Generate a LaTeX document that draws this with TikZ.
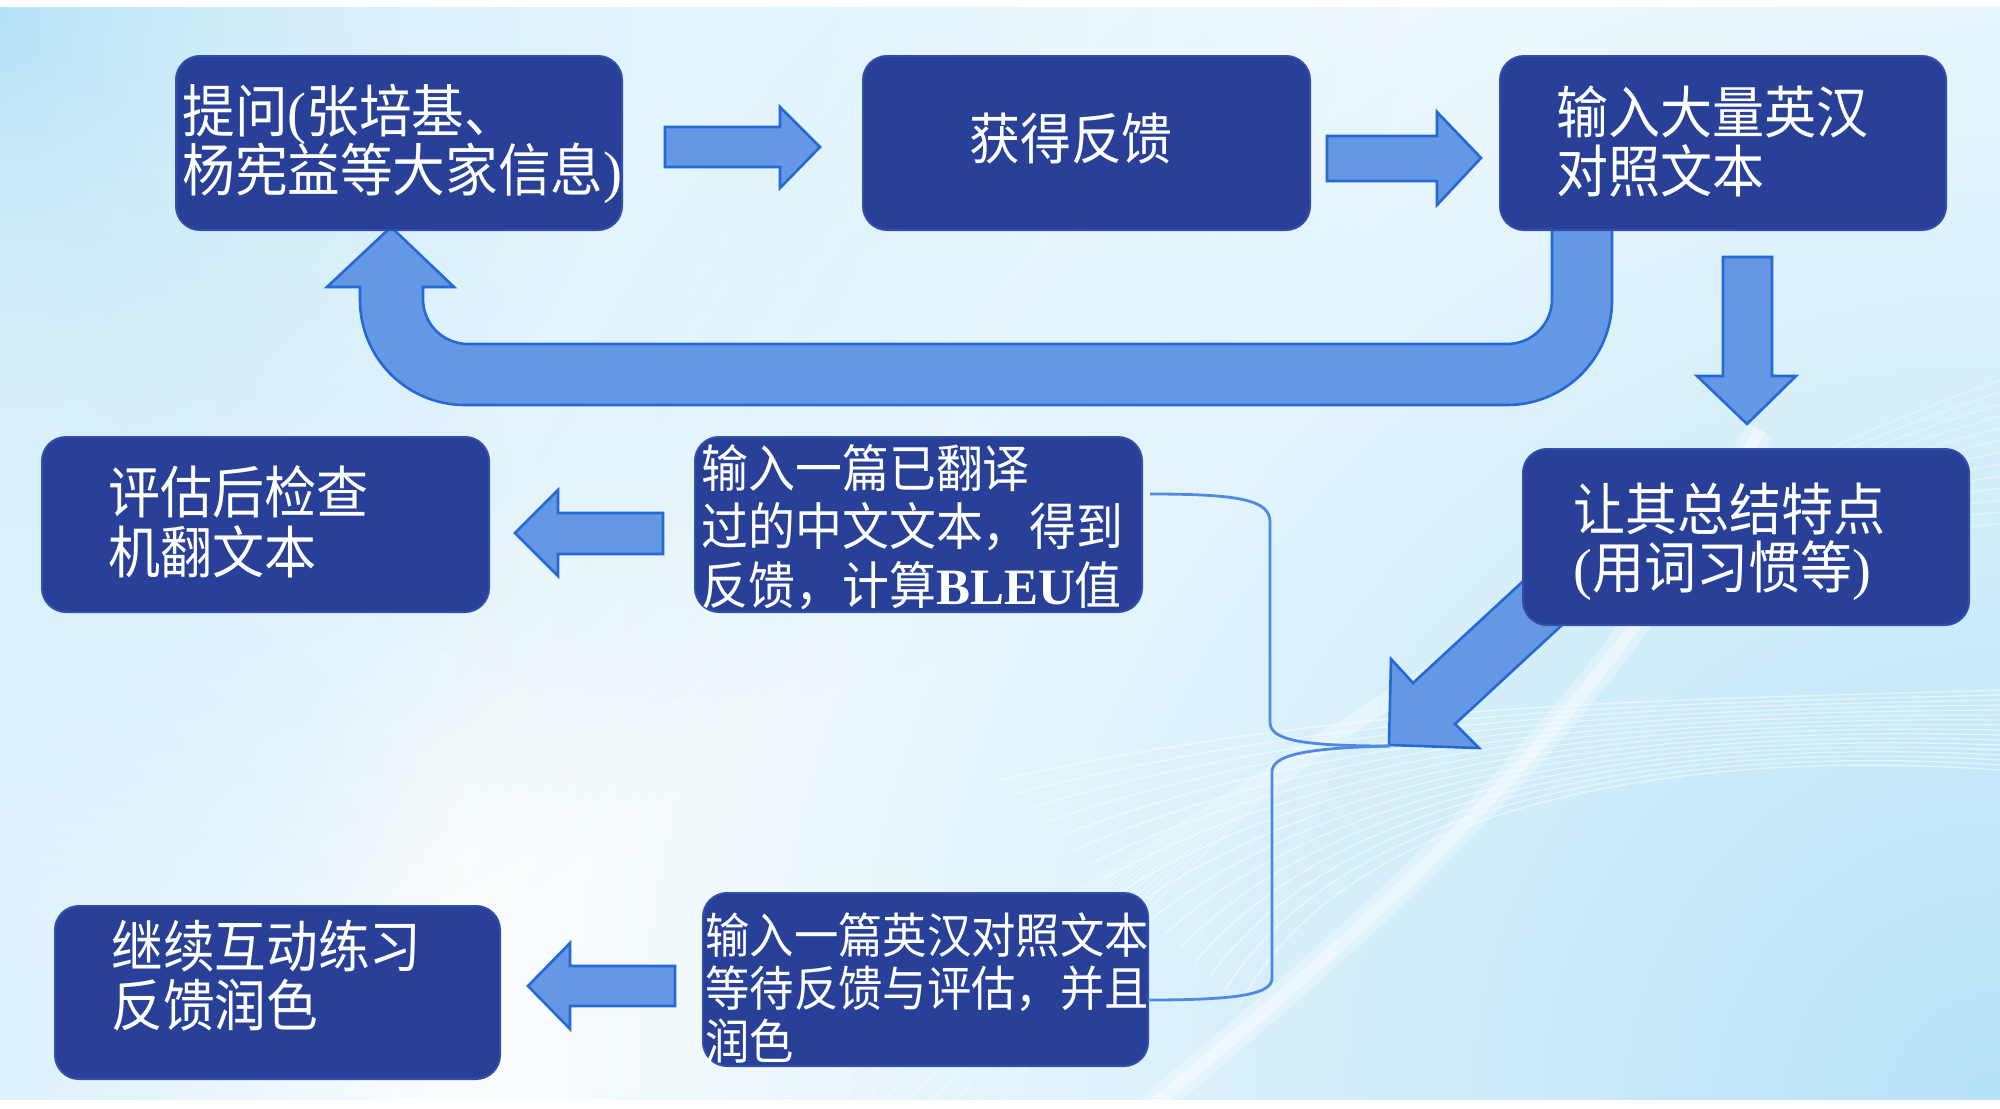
\documentclass[tikz,border=0pt]{standalone}
\usepackage{fontspec}
\setmainfont{Liberation Serif}
\newfontfamily\cjk[FakeStretch=0.92]{Noto Sans CJK SC}
\usetikzlibrary{fadings,calc}
\definecolor{boxfill}{RGB}{40,64,152}
\definecolor{boxedge}{RGB}{48,78,170}
\definecolor{arrfill}{RGB}{100,152,228}
\definecolor{arredge}{RGB}{38,104,214}
\definecolor{bracecol}{RGB}{78,138,226}
\definecolor{bgA}{RGB}{182,227,248}
\tikzfading[name=glow, inner color=transparent!0, outer color=transparent!100]
\newcommand\mytxtfont[2]{\fontsize{#1}{#2}\selectfont\lineskiplimit=-100pt\cjk}
\tikzset{
  box/.style={fill=boxfill, draw=boxedge, line width=1pt, rounded corners=12pt, inner sep=0pt},
  blk/.style={fill=arrfill, draw=arredge, line width=1.3pt, line join=miter},
  txt/.style={text=white, align=left, inner sep=0pt, anchor=west},
  brc/.style={draw=bracecol, line width=1.4pt},
}
\begin{document}
\begin{tikzpicture}[x=0.5pt,y=-0.5pt]
\useasboundingbox (0,0) rectangle (2000,1108);
\fill[white] (0,0) rectangle (2000,1108);
% background
\begin{scope}
  \clip (0,7) rectangle (2000,1099);
  \fill[bgA, path fading=glow] (0,0) circle (520pt);
  \fill[bgA!40, path fading=glow] (700,0) circle (350pt);
  \fill[bgA!50, path fading=glow] (0,560) circle (260pt);
  \fill[bgA, path fading=glow] (2000,1108) circle (800pt);
  \fill[bgA!50, path fading=glow] (0,1050) circle (250pt);
  \begin{scope}[white, opacity=0.5, line width=0.7pt]
    \foreach \i in {0,...,16} {
      \draw (1000+\i*15, 780+\i*14) .. controls (1350, 700+\i*6) and (1700, 700+\i*3) .. (2000, 690+\i*5);
    }
  \end{scope}
  \begin{scope}[white, opacity=0.35, line width=0.7pt]
    \foreach \i in {0,...,12} {
      \draw (700+\i*25, 1108) .. controls (1200, 850-\i*5) and (1500, 560) .. (2000, 380+\i*12);
    }
  \end{scope}
  \draw[white, opacity=0.3, line width=14pt] (1150,1108) .. controls (1400,900) and (1600,720) .. (1760,430);
  \draw[white, opacity=0.4, line width=6pt] (1150,1108) .. controls (1400,900) and (1600,720) .. (1760,430);
\end{scope}

% U-turn arrow (behind boxes)
\draw[blk] (391,227) -- (454,287) -- (423,287) -- (423,299)
  .. controls (423,324) and (443,344) .. (468,344) -- (1507,344)
  .. controls (1532,344) and (1552,324) .. (1552,299) -- (1552,225) -- (1612,225) -- (1612,300)
  .. controls (1612,358) and (1565,405) .. (1507,405) -- (465,405)
  .. controls (407,405) and (360,358) .. (360,300) -- (360,287) -- (327,287) -- cycle;
% diagonal arrow (behind box 4)
\draw[blk] (1613,498) -- (1413,683) -- (1391,659) -- (1389,745) -- (1479,748) -- (1455,724) -- (1655,539) -- cycle;

% boxes
\node[box, minimum width=223pt, minimum height=87pt] (b1) at (399,143) {};
\node[box, minimum width=223.5pt, minimum height=87pt] (b2) at (1086.5,143) {};
\node[box, minimum width=223pt, minimum height=87pt] (b3) at (1723,143) {};
\node[box, minimum width=223pt, minimum height=88pt] (b4) at (1746,537) {};
\node[box, minimum width=223.5pt, minimum height=87.5pt] (b5) at (918.5,524.5) {};
\node[box, minimum width=223.5pt, minimum height=87.5pt] (b6) at (265.5,524.5) {};
\node[box, minimum width=222.5pt, minimum height=86.5pt] (b7) at (925.5,979.5) {};
\node[box, minimum width=222.5pt, minimum height=86.5pt] (b8) at (277.5,992.5) {};

% texts
\node[txt, font={\mytxtfont{28.6}{29.5}}] (t1) at (182,144) {提问{\rmfamily(}张培基、\\杨宪益等大家信息{\rmfamily)}};
\node[txt, anchor=center, font={\mytxtfont{27.7}{28.5}}] (t2) at (1071,139) {获得反馈};
\node[txt, font={\mytxtfont{28.3}{29.5}}] (t3) at (1556,142) {输入大量英汉\\对照文本};
\node[txt, font={\mytxtfont{28.3}{29}}] (t4) at (1573,542) {让其总结特点\\{\rmfamily(}用词习惯等{\rmfamily)}};
\node[txt, font={\mytxtfont{25.5}{29.2}}] (t5) at (701,527) {输入一篇已翻译\\过的中文文本，得到\\反馈，计算{\rmfamily\bfseries BLEU}值};
\node[txt, font={\mytxtfont{28.3}{30}}] (t6) at (108,522) {评估后检查\\机翻文本};
\node[txt, font={\mytxtfont{24.1}{26.5}}] (t7) at (705,988) {输入一篇英汉对照文本\\等待反馈与评估，并且\\润色};
\node[txt, font={\mytxtfont{28.1}{29.5}}] (t8) at (111,976) {继续互动练习\\反馈润色};

% block arrows
\draw[blk] (665,127) -- (780,127) -- (780,107) -- (820,147) -- (780,188) -- (780,167) -- (665,167) -- cycle;
\draw[blk] (1327,136) -- (1437,136) -- (1437,112) -- (1481,158) -- (1437,205) -- (1437,181) -- (1327,181) -- cycle;
\draw[blk] (1723,257) -- (1772,257) -- (1772,376) -- (1796,376) -- (1747,424) -- (1697,376) -- (1723,376) -- cycle;
\draw[blk] (663,513) -- (558,513) -- (558,490) -- (515,533) -- (558,576) -- (558,554) -- (663,554) -- cycle;
\draw[blk] (675,966) -- (570,966) -- (570,943) -- (528,986) -- (570,1029) -- (570,1006) -- (675,1006) -- cycle;

% brace
\coordinate (bt) at (1150,494);
\coordinate (bm) at (1390,746);
\coordinate (bb) at (1148,1000);
\draw[brc] (bt) .. controls (1240,494) and (1270,500) .. (1270,522) -- (1270,722)
  .. controls (1270,740) and (1300,746) .. (bm);
\draw[brc] (bm) .. controls (1305,748) and (1272,755) .. (1272,772) -- (1272,978)
  .. controls (1272,994) and (1240,1000) .. (bb);
\end{tikzpicture}
\end{document}
